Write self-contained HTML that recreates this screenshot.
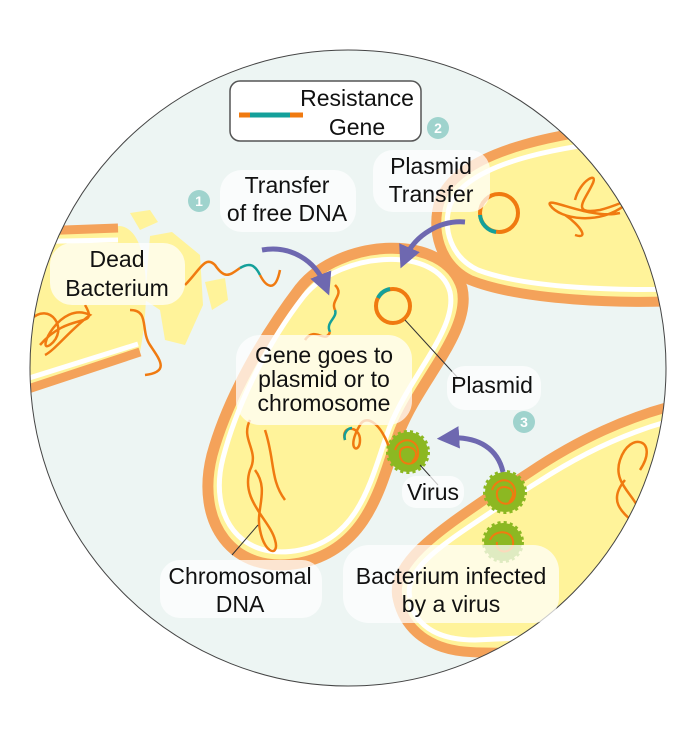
<!DOCTYPE html>
<html><head><meta charset="utf-8"><style>
html,body{margin:0;padding:0;background:#fff}
svg{display:block}
text{font-family:"Liberation Sans",sans-serif;font-size:23px;fill:#111}
</style></head><body>
<svg width="696" height="732" viewBox="0 0 696 732" xmlns="http://www.w3.org/2000/svg">
<defs>
<clipPath id="c"><circle cx="348" cy="368" r="318"/></clipPath>
<marker id="ah" viewBox="0 0 10 10" refX="5" refY="5" markerWidth="4.5" markerHeight="4.5" orient="auto"><path d="M0,0 L10,5 L0,10 Z" fill="#6e68b0"/></marker>
</defs>
<circle cx="348" cy="368" r="318" fill="#edf5f3"/>
<g clip-path="url(#c)">
<!-- left dead bacterium -->
<path d="M10,232 L120,226 C150,230 150,300 140,352 L10,395 Z" fill="#fff39a"/>
<path d="M10,232 L118,228" stroke="#f4a25a" stroke-width="9" fill="none"/>
<path d="M10,242 L118,240" stroke="#fff" stroke-width="5" fill="none"/>
<path d="M10,395 L140,352" stroke="#f4a25a" stroke-width="9" fill="none"/>
<path d="M10,384 L138,344" stroke="#fff" stroke-width="5" fill="none"/>
<path d="M30,320 C50,300 70,330 50,345 C35,355 60,300 90,315 C70,330 55,350 45,355 M40,345 C70,310 100,330 85,305" stroke="#f07a10" stroke-width="2.5" fill="none"/>
<!-- fragments -->
<path d="M130,213 L150,210 L158,222 L140,230 Z M150,236 L172,232 L200,255 L203,305 L185,345 L165,340 L160,310 L145,300 Z M205,282 L225,278 L228,300 L212,310 Z" fill="#fff39a"/>
<path d="M185,285 C200,270 205,255 215,265 C225,280 230,275 240,268" stroke="#f07a10" stroke-width="2.5" fill="none"/>
<path d="M240,268 C250,262 255,265 260,275" stroke="#14a09a" stroke-width="2.5" fill="none"/>
<path d="M260,275 C265,285 275,295 280,270" stroke="#f07a10" stroke-width="2.5" fill="none"/>
<path d="M130,310 C150,310 140,330 150,345 C160,360 170,372 145,375" stroke="#f07a10" stroke-width="2.5" fill="none"/>
<!-- top right bacterium -->
<path d="M440,200 C460,150 560,128 700,120 L700,300 C620,305 520,300 470,280 C440,265 430,230 440,200 Z" fill="#fff39a" stroke="#f4a25a" stroke-width="10"/>
<path d="M450,205 C468,162 560,142 700,134 L700,288 C620,292 525,288 478,270 C452,258 442,230 450,205 Z" fill="none" stroke="#fff" stroke-width="5"/>
<circle cx="499" cy="213" r="19" fill="none" stroke="#f07a10" stroke-width="4"/>
<path d="M480,215 A19,19 0 0 0 496,232" fill="none" stroke="#14a09a" stroke-width="4"/>
<path d="M575,200 C580,180 600,170 592,185 C585,200 570,215 600,210 C620,205 635,195 625,205 C600,225 560,220 550,205 C545,195 590,220 620,213 M565,215 C580,225 590,240 575,235" stroke="#f07a10" stroke-width="2.5" fill="none"/>
<!-- bottom right bacterium -->
<path d="M398,600 C388,565 440,530 487,498 C505,488 515,482 530,472 C570,445 630,412 700,400 L700,640 C620,648 520,655 470,652 C430,650 405,630 398,600 Z" fill="#fff39a" stroke="#f4a25a" stroke-width="10"/>
<path d="M410,598 C402,568 450,540 494,510 C512,498 522,492 538,482 C578,456 634,426 700,414" fill="none" stroke="#fff" stroke-width="5"/>
<path d="M410,603 C418,628 440,640 475,640 L700,630" fill="none" stroke="#fff" stroke-width="5"/>
<path d="M640,470 C660,440 630,430 620,460 C610,490 650,500 640,530 C630,560 595,560 620,580 C640,600 660,560 650,540 C640,520 600,510 625,480" stroke="#f07a10" stroke-width="2.5" fill="none"/>
<!-- central bacterium -->
<path d="M300,288 C340,238 445,232 462,288 C472,330 420,380 400,430 C382,478 372,548 300,563 C232,576 195,522 212,455 C227,400 262,338 300,288 Z" fill="#fff39a" stroke="#f4a25a" stroke-width="11"/>
<path d="M304,296 C342,250 438,246 450,292 C458,328 410,376 390,426 C372,474 362,538 300,550 C240,562 208,516 223,458 C237,404 268,342 304,296 Z" fill="none" stroke="#fff" stroke-width="5"/>
<circle cx="393" cy="306" r="17" fill="none" stroke="#f07a10" stroke-width="4"/>
<path d="M378,298 A17,17 0 0 1 390,289" fill="none" stroke="#14a09a" stroke-width="4"/>
<path d="M335,285 C345,295 330,300 335,310" stroke="#f07a10" stroke-width="2.5" fill="none"/>
<path d="M335,310 C338,318 325,322 330,332" stroke="#14a09a" stroke-width="2.5" fill="none"/>
<path d="M330,332 C325,345 315,325 305,340" stroke="#f07a10" stroke-width="2.5" fill="none"/>
<path d="M250,420 C240,440 260,450 250,470 C240,500 270,520 275,540 C280,556 265,556 260,530 C255,510 270,490 255,470 M265,430 C275,460 270,480 285,500" stroke="#f07a10" stroke-width="2.5" fill="none"/>
<path d="M345,440 C340,425 360,425 360,440 C360,455 345,450 360,425 C365,415 380,420 390,450" stroke="#f07a10" stroke-width="2.5" fill="none"/>
<path d="M345,440 C343,433 348,428 352,428" stroke="#14a09a" stroke-width="2.5" fill="none"/>
<!-- viruses -->
<g><circle cx="408" cy="452" r="20" fill="#8cb822" stroke="#8cb822" stroke-width="4" stroke-dasharray="3 3"/>
<path d="M395,450 C400,435 420,438 418,455 C416,468 398,466 400,452 C402,442 425,448 412,462" stroke="#f07a10" stroke-width="2" fill="none"/></g>
<g><circle cx="505" cy="492" r="20" fill="#8cb822" stroke="#8cb822" stroke-width="4" stroke-dasharray="3 3"/>
<path d="M492,490 C497,475 517,478 515,495 C513,508 495,506 497,492 C499,482 522,488 509,502" stroke="#f07a10" stroke-width="2" fill="none"/></g>
<g><circle cx="503" cy="542" r="19" fill="#8cb822" stroke="#8cb822" stroke-width="4" stroke-dasharray="3 3"/>
<path d="M490,540 C495,528 515,530 513,545 C510,555 495,553 497,542" stroke="#f07a10" stroke-width="2" fill="none"/></g>
</g>
<circle cx="348" cy="368" r="318" fill="none" stroke="#444" stroke-width="1"/>
<!-- arrows -->
<path d="M262,250 C290,245 315,260 325,285" stroke="#6e68b0" stroke-width="5" fill="none" marker-end="url(#ah)"/>
<path d="M465,222 C440,220 415,235 405,258" stroke="#6e68b0" stroke-width="5" fill="none" marker-end="url(#ah)"/>
<path d="M503,472 C498,450 480,436 448,438" stroke="#6e68b0" stroke-width="5" fill="none" marker-end="url(#ah)"/>
<!-- pointer lines -->
<path d="M405,320 L458,378" stroke="#333" stroke-width="1"/>
<path d="M420,465 L438,485" stroke="#333" stroke-width="1"/>
<path d="M258,525 L232,555" stroke="#333" stroke-width="1"/>
<!-- label boxes -->
<g fill="#fff" fill-opacity="0.72">
<rect x="220" y="170" width="136" height="62" rx="22"/>
<rect x="373" y="150" width="117" height="62" rx="20"/>
<rect x="50" y="243" width="135" height="62" rx="22"/>
<rect x="236" y="335" width="176" height="90" rx="24"/>
<rect x="447" y="366" width="94" height="44" rx="18"/>
<rect x="402" y="476" width="62" height="32" rx="14"/>
<rect x="160" y="560" width="162" height="58" rx="20"/>
<rect x="343" y="545" width="216" height="78" rx="26"/>
</g>
<!-- legend -->
<rect x="230" y="81" width="191" height="60" rx="10" fill="#fff" stroke="#555" stroke-width="1.5"/>
<path d="M239,115 L250,115" stroke="#f07a10" stroke-width="5"/>
<path d="M250,115 L290,115" stroke="#14a09a" stroke-width="5"/>
<path d="M290,115 L303,115" stroke="#f07a10" stroke-width="5"/>
<text x="357" y="106" text-anchor="middle">Resistance</text>
<text x="357" y="135" text-anchor="middle">Gene</text>
<!-- badges -->
<g fill="#9fd3cd"><circle cx="199" cy="201" r="11"/><circle cx="438" cy="128" r="11"/><circle cx="524" cy="422" r="11"/></g>
<g text-anchor="middle">
<text x="199" y="206" style="font-size:14px;fill:#fff;font-weight:bold">1</text>
<text x="438" y="133" style="font-size:14px;fill:#fff;font-weight:bold">2</text>
<text x="524" y="427" style="font-size:14px;fill:#fff;font-weight:bold">3</text>
</g>
<!-- labels -->
<g text-anchor="middle">
<text x="287" y="193">Transfer</text><text x="287" y="221">of free DNA</text>
<text x="431" y="174">Plasmid</text><text x="431" y="202">Transfer</text>
<text x="117" y="267">Dead</text><text x="117" y="296">Bacterium</text>
<text x="324" y="363">Gene goes to</text><text x="324" y="387">plasmid or to</text><text x="324" y="411">chromosome</text>
<text x="492" y="393">Plasmid</text>
<text x="433" y="500">Virus</text>
<text x="240" y="584">Chromosomal</text><text x="240" y="612">DNA</text>
<text x="451" y="584">Bacterium infected</text><text x="451" y="612">by a virus</text>
</g>
</svg>
</body></html>
